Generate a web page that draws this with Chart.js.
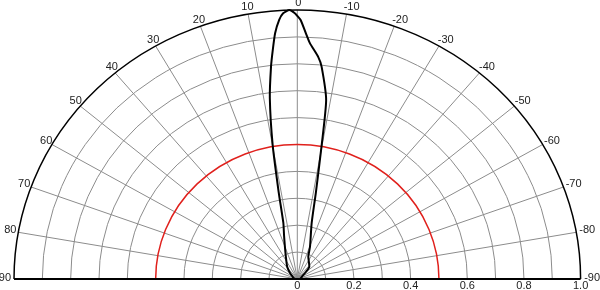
<!DOCTYPE html>
<html>
<head>
<meta charset="utf-8">
<script src="https://cdn.jsdelivr.net/npm/chart.js@4.4.1/dist/chart.umd.min.js"></script>
<style>
html, body { margin: 0; padding: 0; background: #fff; }
#wrap { width: 600px; height: 290px; }
</style>
</head>
<body>
<div id="wrap"><canvas id="polarChart"></canvas></div>
<script>
// beam pattern: angle in degrees (positive = left of 0), relative intensity
const angles = [90, 60, 49, 38, 26, 20, 16, 13.3, 11.5, 9.9, 8.2, 6.7, 5.8, 4.9, 3.8, 2.9, 1.6, 0.5, 0,
                -0.7, -1.9, -2.9, -5.1, -6.2, -8.7, -9.8, -11.5, -13.7, -20.5, -25, -43, -49, -60, -90];
const intensity = [0.01, 0.02, 0.034, 0.058, 0.092, 0.128, 0.17, 0.214, 0.33, 0.506, 0.68, 0.795, 0.856, 0.917, 0.965, 0.989, 1.0, 0.988, 0.978,
                   0.963, 0.914, 0.878, 0.829, 0.794, 0.673, 0.506, 0.33, 0.214, 0.128, 0.092, 0.062, 0.041, 0.02, 0.01];

const angleTicks = [90, 80, 70, 60, 50, 40, 30, 20, 10, 0, -10, -20, -30, -40, -50, -60, -70, -80, -90];
const radialTicks = [0, 0.2, 0.4, 0.6, 0.8, 1.0];
const rings = [0.1, 0.2, 0.3, 0.4, 0.5, 0.6, 0.7, 0.8, 0.9];
const markerRing = 0.5;

const rad = a => a * Math.PI / 180;
const beamPoints = angles.map((a, i) => ({
    x: -intensity[i] * Math.sin(rad(a)),
    y: intensity[i] * Math.cos(rad(a))
}));

const polarGrid = {
    id: 'polarGrid',
    beforeDatasetsDraw(chart) {
        const { ctx, scales: { x, y } } = chart;
        const cx = x.getPixelForValue(0), cy = y.getPixelForValue(0);
        const ring = (v) => {
            ctx.beginPath();
            ctx.ellipse(cx, cy, x.getPixelForValue(v) - cx, cy - y.getPixelForValue(v), 0, Math.PI, 2 * Math.PI);
            ctx.stroke();
        };
        ctx.save();
        ctx.strokeStyle = '#8c8c8c';
        ctx.lineWidth = 1;
        rings.forEach(v => { if (v !== markerRing) ring(v); });
        angleTicks.forEach(a => {
            if (Math.abs(a) === 90) return;
            ctx.beginPath();
            ctx.moveTo(cx, cy);
            ctx.lineTo(x.getPixelForValue(-Math.sin(rad(a))), y.getPixelForValue(Math.cos(rad(a))));
            ctx.stroke();
        });
        ctx.strokeStyle = '#e0201c'; // red half-intensity ring
        ctx.lineWidth = 1.5;
        ring(markerRing);
        ctx.strokeStyle = '#000';
        ctx.lineWidth = 1.5;
        ring(1);
        ctx.lineWidth = 2;
        ctx.beginPath();
        ctx.moveTo(x.getPixelForValue(-1), cy);
        ctx.lineTo(x.getPixelForValue(1), cy);
        ctx.stroke();
        ctx.restore();
    },
    afterDraw(chart) {
        const { ctx, scales: { x, y } } = chart;
        const cy = y.getPixelForValue(0);
        ctx.save();
        ctx.font = '11px "Liberation Sans", Arial, sans-serif';
        ctx.fillStyle = '#222';
        ctx.textBaseline = 'middle';
        angleTicks.forEach(a => {
            const t = rad(Math.abs(a));
            const ex = x.getPixelForValue(-Math.sin(rad(a)));
            const ey = y.getPixelForValue(Math.cos(rad(a)));
            const ty = ey - 1 - 6 * Math.cos(t);
            if (a > 0) {
                ctx.textAlign = 'right';
                ctx.fillText(String(a), ex + 6 * Math.cos(t) - 3 * Math.sin(t), ty);
            } else if (a < 0) {
                ctx.textAlign = 'left';
                ctx.fillText(String(a), ex - 3.5 * Math.cos(t) + 3.6 * Math.sin(t), ty);
            } else {
                ctx.textAlign = 'center';
                ctx.fillText('0', ex + 1, ty);
            }
        });
        ctx.textAlign = 'center';
        radialTicks.forEach(v => {
            ctx.fillText(v === 0 ? '0' : v.toFixed(1), x.getPixelForValue(v), cy + 7);
        });
        ctx.restore();
    }
};

new Chart(document.getElementById('polarChart'), {
    type: 'scatter',
    data: {
        datasets: [{
            data: beamPoints,
            showLine: true,
            borderColor: '#000',
            borderWidth: 2,
            pointRadius: 0,
            tension: 0.2,
            clip: false
        }]
    },
    options: {
        responsive: true,
        maintainAspectRatio: false,
        animation: false,
        layout: { padding: { left: 14, right: 19.4, top: 10, bottom: 11 } },
        plugins: { legend: { display: false }, tooltip: { enabled: false } },
        scales: {
            x: { type: 'linear', min: -1, max: 1, display: false },
            y: { type: 'linear', min: 0, max: 1, display: false }
        }
    },
    plugins: [polarGrid]
});
</script>
</body>
</html>
